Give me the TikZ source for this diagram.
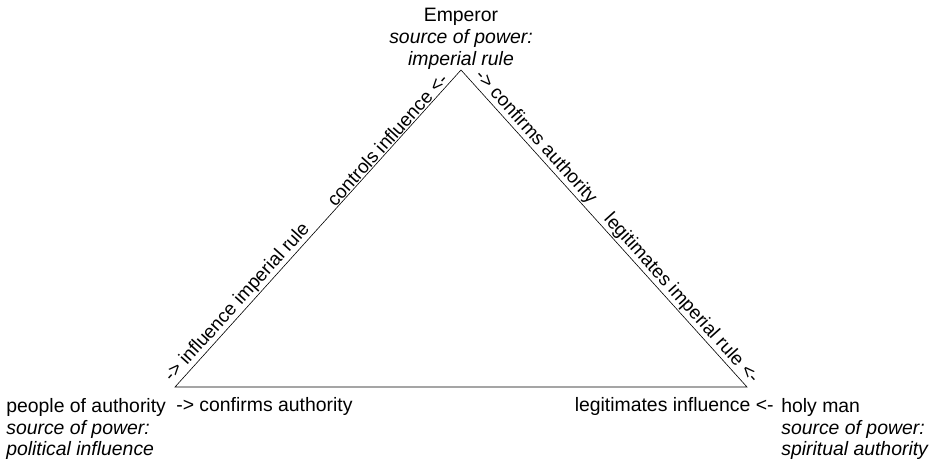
\documentclass[tikz,border=0pt]{standalone}
\usepackage{fontspec}
\setmainfont{Liberation Sans}

\tikzset{
  actor/.style={inner sep=0pt},
  edgelabel/.style={sloped, inner sep=1pt, font=\fontsize{18.9}{21.7}\selectfont}
}

\begin{document}
\begin{tikzpicture}[x=1pt, y=-1pt, line width=0.6pt,
  font=\fontsize{19.4}{21.7}\selectfont]
\useasboundingbox (0,0) rectangle (932,462);

% Sommets du triangle
\coordinate (E) at (461,70);
\coordinate (P) at (175,387);
\coordinate (H) at (747,387);

% Triangle
\draw (E) -- (P) -- (H) -- cycle;

% Acteurs
\node[actor, align=center, anchor=north] (emperor) at (461,8)
  {Emperor\\\textit{source of power:}\\\textit{imperial rule}};
\node[actor, align=left, anchor=north west] (people) at (6,398)
  {people of authority\\\textit{source of power:}\\\textit{political influence}};
\node[actor, align=left, anchor=north west] (holyman) at (781,398)
  {holy man\\\textit{source of power:}\\\textit{spiritual authority}};

% Relations le long des cotes
\path (P) -- (E)
  node[edgelabel, pos=0, anchor=south west] (pe) {-> influence imperial rule}
  node[edgelabel, pos=0.965, anchor=south east] (ep) {controls influence <-};
\path (E) -- (H)
  node[edgelabel, pos=0.03, anchor=south west] (eh) {-> confirms authority}
  node[edgelabel, pos=1.005, anchor=south east] (he) {legitimates imperial rule <-};

% Relations en bas
\node[actor, anchor=base west] (ph) at (176,411.7) {-> confirms authority};
\node[actor, anchor=base east] (hp) at (774,411.7) {legitimates influence <-};

\end{tikzpicture}
\end{document}
